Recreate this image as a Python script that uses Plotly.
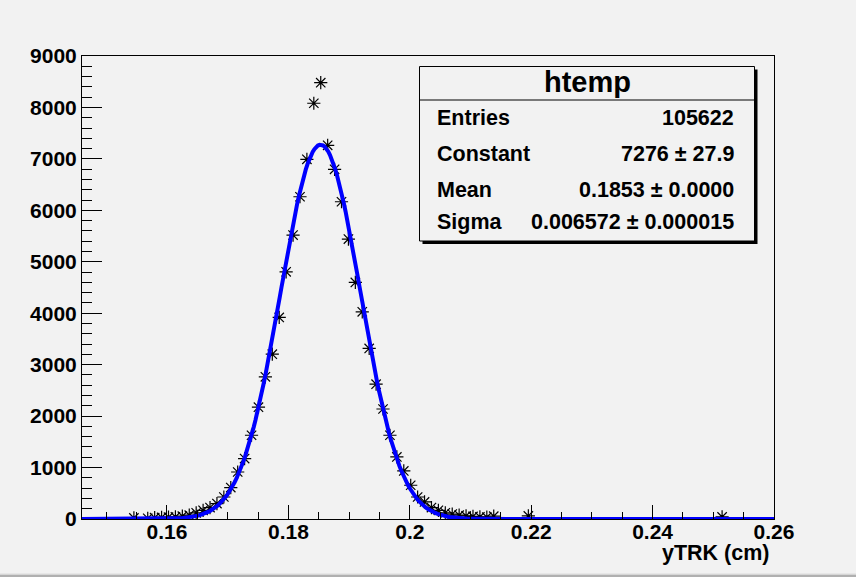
import numpy as np
import plotly.graph_objects as go

# ---------------- data ----------------
hist_low = 0.146
hist_high = 0.26
n_bins = 100

bin_index = [7, 9, 10, 11, 12, 13, 14, 15, 16, 17, 18, 19, 20, 21, 22, 23, 24,
             25, 26, 27, 28, 29, 30, 31, 32, 33, 34, 35, 36, 37, 38, 39, 40,
             41, 42, 43, 44, 45, 46, 47, 48, 49, 50, 51, 52, 53, 54, 55, 56,
             57, 58, 59, 64, 92]
counts = [20, 15, 25, 30, 35, 40, 55, 75, 120, 169, 222, 300, 428, 611, 914, 1175, 1628,
          2173, 2763, 3204, 3918, 4805, 5519, 6264, 6992, 8082, 8482, 7264, 6798, 6167, 5442, 4599, 4027,
          3315, 2621, 2138, 1628, 1206, 934, 656, 428, 331, 222, 169, 120, 95, 75, 60, 50,
          40, 35, 55, 60, 40]

fit_constant = 7276
fit_mean = 0.1853
fit_sigma = 0.006572

stats_title = "htemp"
stats_labels = ["Entries", "Constant", "Mean", "Sigma"]
stats_values = ["105622", "7276 \u00b1 27.9", "0.1853 \u00b1 0.0000", "0.006572 \u00b1 0.000015"]

x_title = "yTRK (cm)"
y_range = [0, 9000]

# ---------------- derived ----------------
bin_width = (hist_high - hist_low) / n_bins
bin_centers = [hist_low + (i + 0.5) * bin_width for i in bin_index]
fx = np.linspace(hist_low, hist_high, 400)
fy = fit_constant * np.exp(-0.5 * ((fx - fit_mean) / fit_sigma) ** 2)

W, H = 856, 577
ML, MR, MT, MB = 82, 82, 56, 58
PW, PH = W - ML - MR, H - MT - MB
BG = "#f2f2f2"
FONT = "Liberation Sans"


def px(x):
    return (x - ML) / PW


def py(y):
    return (H - MB - y) / PH


fig = go.Figure()
fig.add_trace(go.Scatter(
    x=bin_centers, y=counts, mode="markers",
    marker=dict(symbol="asterisk-open", size=11, color="black",
                line=dict(color="black", width=1.2)),
    hoverinfo="x+y", showlegend=False))
fig.add_trace(go.Scatter(
    x=fx, y=fy, mode="lines", line=dict(color="#0000ff", width=4),
    showlegend=False, hoverinfo="skip"))

shapes = []
# stats box shadow and box
bx0, bx1, by0, by1 = 419.5, 754.5, 66.5, 241
shapes.append(dict(type="rect", xref="paper", yref="paper",
                   x0=px(bx0 + 3), x1=px(bx1 + 3), y0=py(by1 + 3), y1=py(by0 + 3),
                   fillcolor="black", line=dict(width=0)))
shapes.append(dict(type="rect", xref="paper", yref="paper",
                   x0=px(bx0), x1=px(bx1), y0=py(by1), y1=py(by0),
                   fillcolor=BG, line=dict(color="black", width=1)))
shapes.append(dict(type="line", xref="paper", yref="paper",
                   x0=px(bx0), x1=px(bx1), y0=py(100), y1=py(100),
                   line=dict(color="black", width=1)))
# bottom window strip
shapes.append(dict(type="rect", xref="paper", yref="paper",
                   x0=px(0), x1=px(W), y0=py(577), y1=py(574.5),
                   fillcolor="#b0b0b0", line=dict(width=0)))
shapes.append(dict(type="rect", xref="paper", yref="paper",
                   x0=px(0), x1=px(W), y0=py(574.5), y1=py(573.5),
                   fillcolor="#dcdcdc", line=dict(width=0)))

annotations = []
annotations.append(dict(text=stats_title, xref="paper", yref="paper",
                        x=px((bx0 + bx1) / 2), y=py(82), xanchor="center", yanchor="middle",
                        showarrow=False,
                        font=dict(family=FONT, size=29, color="black", weight="bold")))
row_y = [118.5, 154, 189.5, 222]
for lab, val, ry in zip(stats_labels, stats_values, row_y):
    annotations.append(dict(text=lab, xref="paper", yref="paper",
                            x=px(435), y=py(ry), xanchor="left", yanchor="middle",
                            showarrow=False,
                            font=dict(family=FONT, size=21.5, color="black", weight="bold")))
    annotations.append(dict(text=val, xref="paper", yref="paper",
                            x=px(736), y=py(ry), xanchor="right", yanchor="middle",
                            showarrow=False,
                            font=dict(family=FONT, size=21.5, color="black", weight="bold")))
annotations.append(dict(text=x_title, xref="paper", yref="paper",
                        x=px(772), y=py(553), xanchor="right", yanchor="middle",
                        showarrow=False,
                        font=dict(family=FONT, size=21.5, color="black", weight="bold")))

fig.update_layout(
    width=W, height=H,
    margin=dict(l=ML, r=MR, t=MT, b=MB, pad=0),
    paper_bgcolor=BG, plot_bgcolor=BG,
    shapes=shapes, annotations=annotations,
    showlegend=False,
)
fig.update_xaxes(
    range=[hist_low, hist_high], showgrid=False, zeroline=False,
    showline=True, linecolor="black", linewidth=1, mirror=True,
    ticks="inside", ticklen=14, tickwidth=1, tickcolor="black",
    tickvals=[0.16, 0.18, 0.2, 0.22, 0.24, 0.26],
    ticktext=["0.16", "0.18", "0.2", "0.22", "0.24", "0.26"],
    ticklabelstandoff=-6,
    minor=dict(ticks="inside", ticklen=7, tickcolor="black", tickwidth=1,
               tickvals=[round(0.15 + 0.005 * k, 3) for k in range(23)]),
    tickfont=dict(family=FONT, size=21, color="black", weight="bold"),
)
fig.update_yaxes(
    range=y_range, showgrid=False, zeroline=False,
    showline=True, linecolor="black", linewidth=1, mirror=True,
    ticks="inside", ticklen=20, tickwidth=1, tickcolor="black",
    tickvals=list(range(0, 9001, 1000)),
    minor=dict(ticks="inside", ticklen=10, tickcolor="black", tickwidth=1,
               tickvals=list(range(0, 9001, 200))),
    tickfont=dict(family=FONT, size=21, color="black", weight="bold"),
)

fig.write_html(
    "out.html",
    config={"displayModeBar": False},
    post_script="document.body.style.margin='0';document.body.style.background='#f2f2f2';document.body.style.overflow='hidden';",
)
